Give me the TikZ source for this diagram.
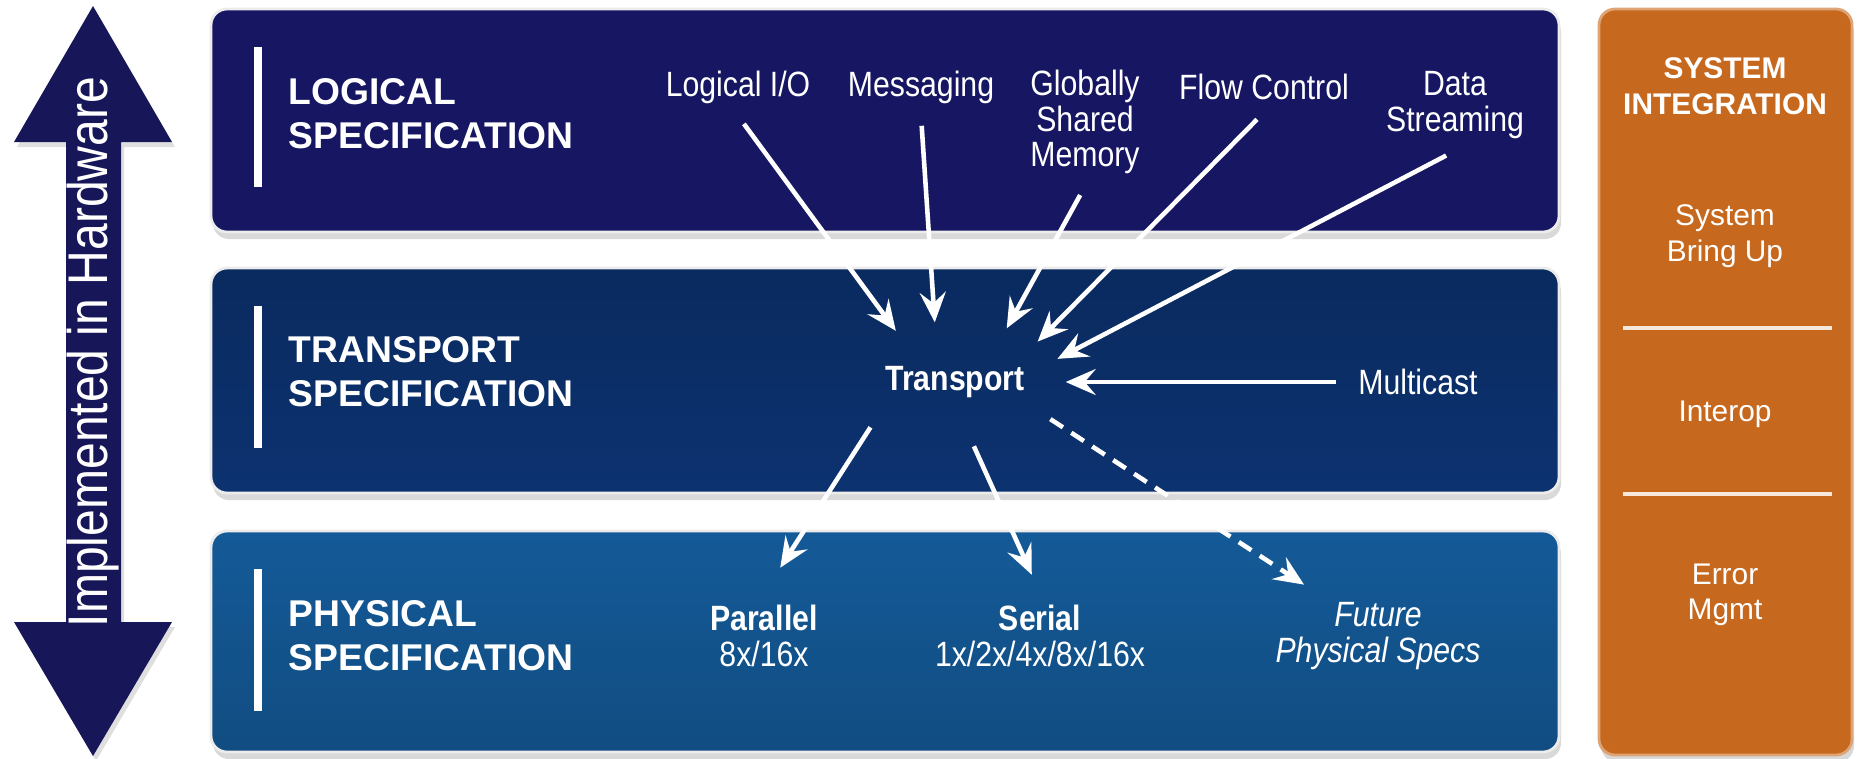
\documentclass[tikz,border=0pt]{standalone}
\usepackage{fontspec}
\setmainfont{Liberation Sans}
\newfontfamily\narrowfont[FakeStretch=0.86]{Liberation Sans}
\usepackage{tikz}
\usetikzlibrary{shapes,arrows.meta,shadows,positioning}

\definecolor{logicblue}{RGB}{22,22,98}
\definecolor{transblue}{RGB}{12,50,112}
\definecolor{physblue}{RGB}{20,90,152}
\definecolor{sysorange}{RGB}{198,104,30}
\definecolor{hwblue}{RGB}{22,22,88}

\begin{document}
\begin{tikzpicture}[x=0.1mm,y=-0.1mm,
    every node/.append style={text=white},
    layer/.style={draw=white!85!gray, line width=0.8pt, rounded corners=1.6mm,
                  minimum width=134.8mm, inner sep=0pt,
                  drop shadow={opacity=0.3, shadow xshift=0.2mm, shadow yshift=-0.7mm}},
    bar/.style={white, line width=0.8mm},
    ttl/.style={font=\bfseries\fontsize{10.6}{12.5}\selectfont, align=left, anchor=west, inner sep=0pt},
    lbl/.style={font=\narrowfont\fontsize{10}{10.1}\selectfont, align=center},
    side/.style={font=\fontsize{8.5}{10.1}\selectfont, align=center},
    link/.style={white, line width=1.3pt, -{Stealth[length=3mm,width=2.6mm,inset=1.1mm]},
                 shorten <=1mm, shorten >=0.5mm}]
    \useasboundingbox (0,0) rectangle (1858,758);

    % up/down arrow
    \fill[hwblue, drop shadow={opacity=0.25, shadow xshift=0.3mm, shadow yshift=-0.5mm}]
        (93,6) -- (172,142) -- (121,142) -- (121,622) -- (172,622) -- (93,756)
        -- (14,622) -- (66,622) -- (66,142) -- (14,142) -- cycle;
    \node[rotate=90, font=\narrowfont\fontsize{15.9}{16}\selectfont] (hw) at (93,352) {Implemented in Hardware};

    % the three layers
    \node[layer, fill=logicblue, minimum height=22.3mm] (logic) at (885,120.5) {};
    \node[layer, top color=transblue!85!black, bottom color=transblue, minimum height=22.5mm] (trans) at (885,380.5) {};
    \node[layer, top color=physblue, bottom color=physblue!85!black, minimum height=22.1mm] (phys) at (885,641.5) {};
    \draw[bar] (258,47) -- (258,187);
    \draw[bar] (258,306) -- (258,448);
    \draw[bar] (258,569) -- (258,711);
    \node[ttl] (logttl) at (288,114) {LOGICAL\\SPECIFICATION};
    \node[ttl] (trattl) at (288,372) {TRANSPORT\\SPECIFICATION};
    \node[ttl] (phyttl) at (288,636) {PHYSICAL\\SPECIFICATION};

    % system integration column
    \node[draw=sysorange!60!white, line width=0.8pt, rounded corners=1.6mm, fill=sysorange,
          minimum width=25.3mm, minimum height=74.6mm,
          drop shadow={opacity=0.3, shadow xshift=0.2mm, shadow yshift=-0.7mm}] (sys) at (1725.5,382) {};
    \node[side, font=\bfseries\fontsize{8.5}{10.1}\selectfont] (systtl) at (1725,86) {SYSTEM\\INTEGRATION};
    \node[side] (bring) at (1725,236) {System\\Bring Up};
    \node[side] (interop) at (1725,414) {Interop};
    \node[side] (errm) at (1725,595) {Error\\Mgmt};
    \draw[white!85!sysorange, line width=0.9pt] (1623,328) -- (1832,328);
    \draw[white!85!sysorange, line width=0.9pt] (1623,494) -- (1832,494);

    % logical services
    \node[lbl] (lio) at (738,87) {Logical I/O};
    \node[lbl] (msg) at (921,87) {Messaging};
    \node[lbl] (gsm) at (1085,122) {Globally\\Shared\\Memory};
    \node[lbl] (flow) at (1264,87) {Flow Control};
    \node[lbl] (data) at (1455,105) {Data\\Streaming};

    % transport
    \node[lbl, font=\narrowfont\bfseries\fontsize{10}{10.1}\selectfont, ellipse,
          minimum width=21mm, minimum height=11mm, inner sep=0pt] (tr) at (955,382) {Transport};
    \node[lbl] (mc) at (1418,382) {Multicast};

    % physical
    \node[lbl] (par) at (764,636) {\textbf{Parallel}\\8x/16x};
    \node[lbl] (ser) at (1040,636) {\textbf{Serial}\\1x/2x/4x/8x/16x};
    \node[lbl, font=\narrowfont\itshape\fontsize{10}{10.1}\selectfont] (fut) at (1378,636) {Future\\Physical Specs};

    % arrows
    \draw[link] (lio.south) -- (tr.140);
    \draw[link] (msg.south) -- (tr.110);
    \draw[link] (gsm.south) -- (tr.45);
    \draw[link] (flow.south) -- (tr.25);
    \draw[link] (data.south) -- (tr.12);
    \draw[link] (mc.west) -- (tr.east);
    \draw[link, shorten >=3mm] (tr.205) -- (par.north);
    \draw[link, shorten >=2mm] (tr.-75) -- (ser.north);
    \draw[link, dash pattern=on 1.5mm off 1mm, shorten >=1mm] (tr.-20) -- (fut.145);
\end{tikzpicture}
\end{document}
